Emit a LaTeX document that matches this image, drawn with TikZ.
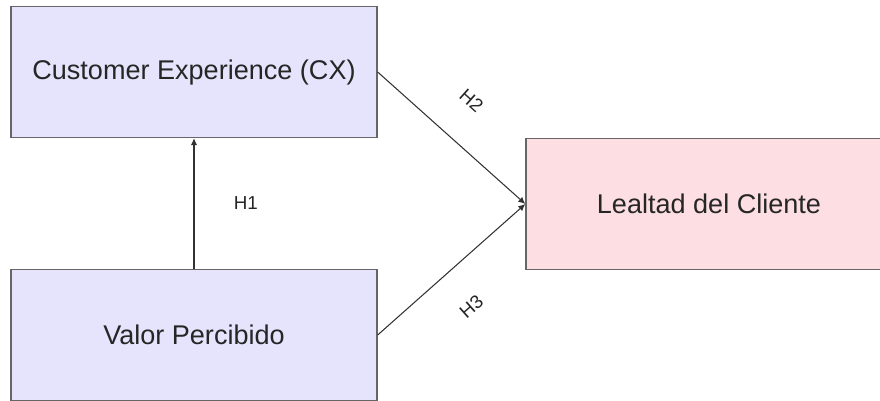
\documentclass[tikz,border=0pt]{standalone}
\usepackage{fontspec}
\setmainfont{Liberation Sans}
\usepackage{xcolor}
\usetikzlibrary{arrows.meta,positioning}
\definecolor{boxlila}{RGB}{229,228,252}
\definecolor{boxrosa}{RGB}{253,222,226}
\definecolor{borde}{RGB}{102,102,102}
\definecolor{linea}{RGB}{50,50,50}

\begin{document}
\begin{tikzpicture}[
  x=0.02cm, y=-0.02cm,
  constructo/.style={draw=borde, line width=0.8pt, minimum width=7.32cm, minimum height=2.62cm, inner sep=0pt, text=black!85, font=\fontsize{15.4}{18}\selectfont},
  hip/.style={draw=linea, line width=0.6pt, -{Latex[length=1.4mm,width=1.3mm]}},
  etiq/.style={font=\fontsize{10.7}{12}\selectfont, text=black!85},
]
\useasboundingbox (0,0) rectangle (880,400);
\node[constructo, fill=boxlila] (cx) at (194,72) {Customer Experience (CX)};
\node[constructo, fill=boxlila] (valor) at (194,335) {Valor Percibido};
\node[constructo, fill=boxrosa] (lealtad) at (709,204) {Lealtad del Cliente};
\draw[hip] (valor) -- (cx) node[etiq, midway, right=19pt] {H1};
\draw[hip] (cx.east) -- (lealtad.west) node[etiq, pos=0.45, sloped, above=16pt] {H2};
\draw[hip] (valor.east) -- (lealtad.west) node[etiq, pos=0.45, sloped, below=16pt] {H3};
\end{tikzpicture}
\end{document}
